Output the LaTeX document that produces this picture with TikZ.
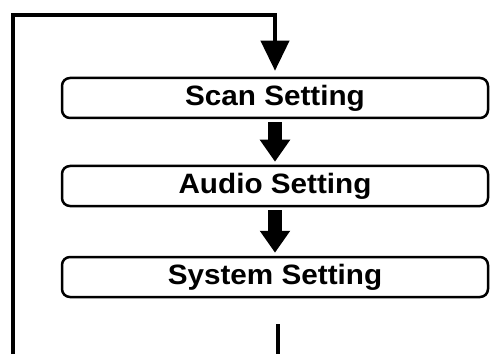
\documentclass[tikz,border=0pt]{standalone}
\usepackage{fontspec}
\setmainfont{Liberation Sans}
\usetikzlibrary{arrows.meta}
\begin{document}
\begin{tikzpicture}[x=1pt,y=1pt,
  setbox/.style={draw, line width=2.5pt, rounded corners=8pt, minimum width=426pt, minimum height=40pt, inner sep=0pt, font=\fontsize{28}{32}\selectfont\bfseries},
  bigarrow/.style={line width=14pt, -{Triangle[width=29pt,length=22pt]}, shorten <=3pt, shorten >=3pt},
  loopline/.style={line width=4pt}]
\useasboundingbox (0,0) rectangle (490,354);
\node[setbox] (scan) at (275,256) {\scalebox{1.06}[1]{Scan Setting}};
\node[setbox] (audio) at (275,168) {\scalebox{1.06}[1]{Audio Setting}};
\node[setbox] (system) at (275,77) {\scalebox{1.06}[1]{System Setting}};
\draw[bigarrow] (scan) -- (audio);
\draw[bigarrow] (audio) -- (system);
% loop back to the top
\coordinate (bl) at (13,0);
\coordinate (tl) at (13,339);
\coordinate (tr) at (scan.north |- tl);
\draw[loopline, -{Triangle[width=28pt,length=30pt]}, shorten >=6pt] (bl) -- (tl) -- (tr) -- (scan.north);
\coordinate (out) at ([xshift=3pt,yshift=-26pt]system.south);
\coordinate (bot) at (out |- bl);
\draw[loopline] (out) -- (bot);
\end{tikzpicture}
\end{document}
